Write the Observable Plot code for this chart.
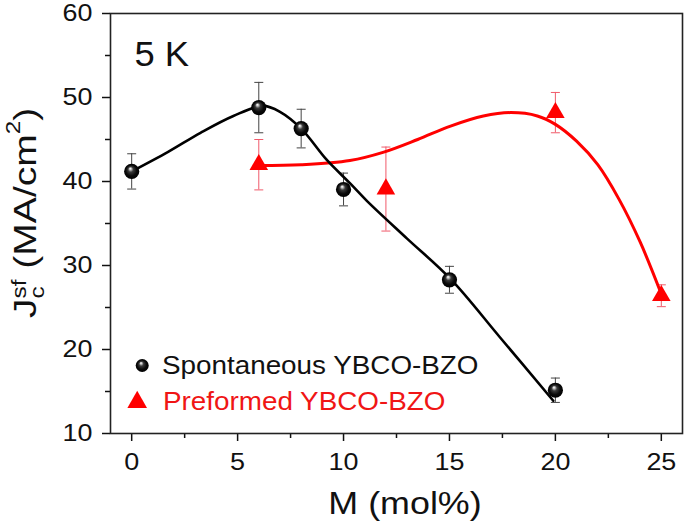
<!DOCTYPE html>
<html><head><meta charset="utf-8">
<script src="https://cdn.jsdelivr.net/npm/d3@7"></script>
<script src="https://cdn.jsdelivr.net/npm/@observablehq/plot@0.6"></script>
<style>
body{margin:0;background:#fff;}
#chart{width:685px;height:522px;}
</style></head><body><div id="chart"></div>
<script>
// ---- data ----
const spontM   = [0, 6, 8, 10, 15, 20];
const spontJc  = [41.2, 48.8, 46.3, 39.05, 28.3, 15.15];
const spontErr = [2.1, 3.0, 2.3, 1.95, 1.6, 1.45];

const prefM   = [6, 12, 20, 25];
const prefJc  = [42.0, 39.1, 48.2, 26.4];
const prefErr = [3.0, 5.0, 2.4, 1.3];

// fitted guide curves
const spontFitM  = [0, 1.7, 3.25, 4.8, 6.2, 7.0, 8.0, 9.2, 10.3, 11.1, 13.0, 15.05, 17.4, 19.9];
const spontFitJc = [41.2, 43.5, 45.8, 47.8, 49.0, 48.3, 46.3, 42.6, 39.8, 37.7, 33.2, 28.4, 21.4, 13.9];
const prefFitM   = [6, 8, 10.3, 11.9, 13.5, 15.05, 16.6, 17.9, 19.15, 20, 21, 22, 23, 24, 25];
const prefFitJc  = [41.9, 42.0, 42.5, 43.5, 45.0, 46.6, 47.8, 48.2, 47.8, 46.8, 44.8, 42.0, 37.9, 32.8, 26.6];

const xTicks = [0, 5, 10, 15, 20, 25];
const xMinorTicks = [2.5, 7.5, 12.5, 17.5, 22.5];
const yTicks = [10, 20, 30, 40, 50, 60];
const yMinorTicks = [15, 25, 35, 45, 55];
const seriesNames = ["Spontaneous YBCO-BZO", "Preformed YBCO-BZO"];
const annotation = "5 K";
const xLabel = "M (mol%)";

// ---- tables ----
const spont = spontM.map((m, i) => ({m, jc: spontJc[i], err: spontErr[i]}));
const pref = prefM.map((m, i) => ({m, jc: prefJc[i], err: prefErr[i]}));
const spontFit = spontFitM.map((m, i) => ({m, jc: spontFitJc[i]}));
const prefFit = prefFitM.map((m, i) => ({m, jc: prefFitJc[i]}));

const FONT = "'Liberation Sans', Arial, Helvetica, sans-serif";
const RED = "#ff0000";
const cap = {draw(ctx, size) { const r = Math.sqrt(size / Math.PI); ctx.moveTo(-r, 0); ctx.lineTo(r, 0); }};

const plot = Plot.plot({
  width: 685, height: 522,
  marginLeft: 110, marginRight: 3, marginTop: 13, marginBottom: 89,
  x: {domain: [-1, 26]},
  y: {domain: [10, 60]},
  style: {fontFamily: FONT, fontSize: "24px", color: "#111", background: "white"},
  marks: [
    Plot.axisX({ticks: xTicks, tickSize: 8, tickPadding: 11, label: null, strokeWidth: 1.5}),
    Plot.axisX({ticks: xMinorTicks, tickSize: 5, tickFormat: () => "", label: null, strokeWidth: 1.5}),
    Plot.axisY({ticks: yTicks, tickSize: 8, tickPadding: 10, label: null, strokeWidth: 1.5}),
    Plot.axisY({ticks: yMinorTicks, tickSize: 5, tickFormat: () => "", label: null, strokeWidth: 1.5}),
    Plot.frame({stroke: "#222", strokeWidth: 1.6}),
    // preformed
    Plot.ruleX(pref, {x: "m", y1: d => d.jc - d.err, y2: d => d.jc + d.err, stroke: "#f05a6a", strokeWidth: 1}),
    Plot.dot(pref, {x: "m", y: d => d.jc + d.err, symbol: cap, r: 4.5, fill: "none", stroke: "#f05a6a", strokeWidth: 1}),
    Plot.dot(pref, {x: "m", y: d => d.jc - d.err, symbol: cap, r: 4.5, fill: "none", stroke: "#f05a6a", strokeWidth: 1}),
    Plot.line(prefFit, {x: "m", y: "jc", curve: "catmull-rom", stroke: RED, strokeWidth: 3}),
    // spontaneous
    Plot.ruleX(spont, {x: "m", y1: d => d.jc - d.err, y2: d => d.jc + d.err, stroke: "#444", strokeWidth: 1}),
    Plot.dot(spont, {x: "m", y: d => d.jc + d.err, symbol: cap, r: 4.5, fill: "none", stroke: "#444", strokeWidth: 1}),
    Plot.dot(spont, {x: "m", y: d => d.jc - d.err, symbol: cap, r: 4.5, fill: "none", stroke: "#444", strokeWidth: 1}),
    Plot.line(spontFit, {x: "m", y: "jc", curve: "catmull-rom", stroke: "#000", strokeWidth: 2.6}),
    Plot.dot(pref, {x: "m", y: "jc", symbol: "triangle", r: 6.9, fill: RED, stroke: "none"}),
    Plot.dot(spont, {x: "m", y: "jc", r: 7.6, fill: "url(#sph)", stroke: "none"}),
    // annotation
    Plot.text([annotation], {text: d => d, frameAnchor: "top-left", textAnchor: "start", lineAnchor: "bottom", dx: 24, dy: 52.5, fontSize: 35, fill: "#111"}),
    // legend
    Plot.dot([seriesNames[0]], {frameAnchor: "bottom-left", dx: 31.7, dy: -68, r: 6.5, fill: "url(#sph)", stroke: "none"}),
    Plot.dot([seriesNames[1]], {frameAnchor: "bottom-left", dx: 26.7, dy: -31.3, r: 7.3, symbol: "triangle", fill: RED, stroke: "none"}),
    Plot.text([seriesNames[0]], {text: d => d, frameAnchor: "bottom-left", textAnchor: "start", lineAnchor: "bottom", dx: 51.5, dy: -60, fontSize: 26, fill: "#111"}),
    Plot.text([seriesNames[1]], {text: d => d, frameAnchor: "bottom-left", textAnchor: "start", lineAnchor: "bottom", dx: 52.5, dy: -24, fontSize: 26, fill: "#f01515"}),
    // x label
    Plot.text([xLabel], {text: d => d, frameAnchor: "bottom", lineAnchor: "bottom", dx: 8.5, dy: 80, fontSize: 32, fill: "#111"})
  ]
});

// gradient for the glossy spheres
const NS = "http://www.w3.org/2000/svg";
const defs = document.createElementNS(NS, "defs");
const grad = document.createElementNS(NS, "radialGradient");
grad.setAttribute("id", "sph");
grad.setAttribute("cx", "0.5"); grad.setAttribute("cy", "0.5"); grad.setAttribute("r", "0.5");
grad.setAttribute("fx", "0.4"); grad.setAttribute("fy", "0.3");
[["0%", "#ffffff"], ["12%", "#cfcfcf"], ["35%", "#3a3a3a"], ["70%", "#0a0a0a"], ["100%", "#000"]].forEach(([o, c]) => {
  const s = document.createElementNS(NS, "stop");
  s.setAttribute("offset", o); s.setAttribute("stop-color", c); grad.appendChild(s);
});
defs.appendChild(grad);
plot.insertBefore(defs, plot.firstChild);

// y-axis label with sub/superscripts
const yl = document.createElementNS(NS, "text");
yl.setAttribute("transform", "translate(36,318) rotate(-90) scale(1.22,1)");
yl.setAttribute("font-family", FONT);
yl.setAttribute("font-size", "32");
yl.setAttribute("text-anchor", "start");
yl.setAttribute("fill", "#111");
const parts = [
  ["J", null, 0, 0],
  ["c", 20, 0, 8],
  ["sf", 20, -10, -18],
  [" (MA/cm", 32, 0, 10],
  ["2", 20, 0, -16],
  [")", 32, 0, 16]
];
parts.forEach(([txt, fs, dx, dy]) => {
  const ts = document.createElementNS(NS, "tspan");
  ts.textContent = txt;
  if (fs) ts.setAttribute("font-size", fs);
  if (dx) ts.setAttribute("dx", dx);
  if (dy) ts.setAttribute("dy", dy);
  yl.appendChild(ts);
});
plot.appendChild(yl);

document.getElementById("chart").appendChild(plot);

// widen lettering to match the original (after layout, via textLength)
const stretchFor = new Map([
  [seriesNames[0], 1.07], [seriesNames[1], 1.07],
  [annotation, 1.04], [xLabel, 1.12]
]);
plot.querySelectorAll("text").forEach(t => {
  if (t === yl || t.querySelector("tspan")) return;
  const s = t.textContent;
  if (!s) return;
  let k = stretchFor.get(s);
  if (k === undefined && /^\d+$/.test(s)) k = 1.12;
  if (k === undefined) return;
  const w = t.getComputedTextLength();
  if (w > 0) {
    t.setAttribute("textLength", (w * k).toFixed(1));
    t.setAttribute("lengthAdjust", "spacingAndGlyphs");
  }
});
</script></body></html>
